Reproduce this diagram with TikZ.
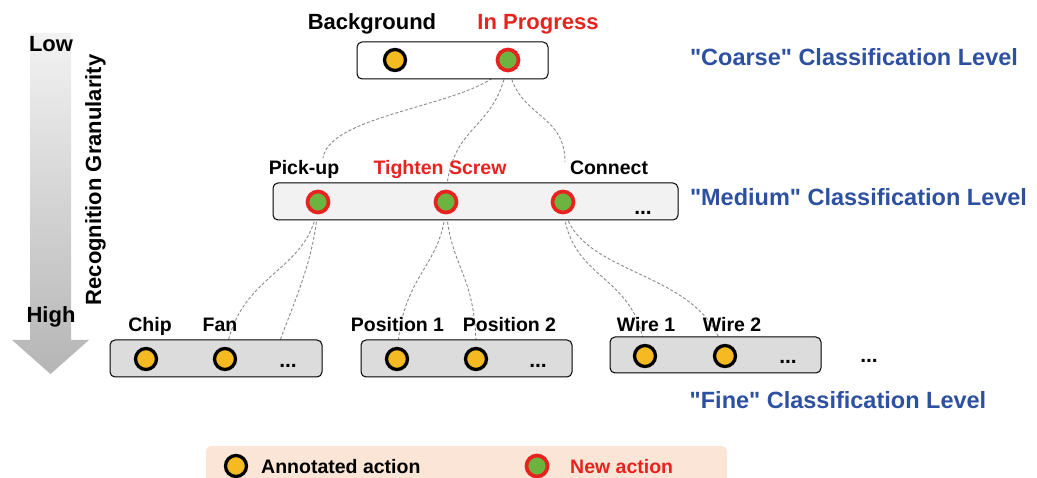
\documentclass[tikz,border=0pt]{standalone}
\usepackage{fontspec}
\newfontfamily\labelfont{Liberation Sans}
\setmainfont{Liberation Sans}

\definecolor{annotfill}{HTML}{F5BA22}
\definecolor{newfill}{HTML}{6DB33F}
\definecolor{newring}{HTML}{E8221F}
\definecolor{levelblue}{HTML}{2E50A0}
\definecolor{legendfill}{HTML}{FBE5D6}
\definecolor{medfill}{HTML}{F2F2F2}
\definecolor{finefill}{HTML}{DCDCDC}
\definecolor{linkgray}{HTML}{8A8A8A}

\pgfdeclarelayer{links}
\pgfdeclarelayer{panels}
\pgfsetlayers{links,panels,main}

\tikzset{
  lbl/.style={font=\labelfont\fontsize{19.5}{20}\selectfont\bfseries, anchor=base, inner sep=0pt},
  biglbl/.style={lbl, font=\labelfont\fontsize{22}{22}\selectfont\bfseries},
  newlbl/.style={lbl, text=newring},
  levellbl/.style={font=\labelfont\fontsize{23.5}{24}\selectfont\bfseries, anchor=base, inner sep=0pt, text=levelblue},
  annot/.style={circle, minimum size=21pt, inner sep=0pt, fill=annotfill, draw=black, line width=3.3pt},
  newact/.style={circle, minimum size=21pt, inner sep=0pt, fill=newfill, draw=newring, line width=3.7pt},
  panel/.style={rectangle, rounded corners=5pt, draw=black, line width=1pt, inner sep=0pt},
  link/.style={draw=linkgray, line width=0.9pt, dash pattern=on 3pt off 2pt},
  dots/.style={font=\labelfont\fontsize{21}{21}\selectfont\bfseries, anchor=base, inner sep=0pt},
}

\begin{document}
\begin{tikzpicture}[x=1pt, y=-1pt]
\clip (0,0) rectangle (1037,478);

% granularity arrow
\shade[top color=gray!10, bottom color=gray!58]
  (30,33) -- (71,33) -- (71,340) -- (89,340) -- (50.5,374) -- (12,340) -- (30,340) -- cycle;
\node[biglbl] (low) at (51,52) {Low};
\node[biglbl] (high) at (51,323) {High};
\node[biglbl, rotate=90] (gran) at (101,180) {Recognition Granularity};

% panels for the three levels
\begin{pgfonlayer}{panels}
  \node[panel, fill=white, minimum width=191pt, minimum height=37pt] (coarse) at (452.5,60.5) {};
  \node[panel, fill=medfill, minimum width=405pt, minimum height=37pt] (medium) at (475.5,201.5) {};
  \node[panel, fill=finefill, minimum width=212pt, minimum height=37pt] (fineA) at (216,358.5) {};
  \node[panel, fill=finefill, minimum width=211pt, minimum height=37pt] (fineB) at (466.5,358.5) {};
  \node[panel, fill=finefill, minimum width=211pt, minimum height=36pt] (fineC) at (715.5,355) {};
\end{pgfonlayer}

% coarse level
\node[annot] (bg) at (395,60) {};
\node[newact] (ip) at (508,60) {};
\node[biglbl] (lbg) at (372,30) {Background};
\node[biglbl, text=newring] (lip) at (538,30) {In Progress};

% medium level
\node[newact] (pick) at (318,202) {};
\node[newact] (ts) at (446,202) {};
\node[newact] (conn) at (563,202) {};
\node[dots] (mdots) at (643,215) {...};
\node[lbl] (lpick) at (304,175) {Pick-up};
\node[newlbl] (lts) at (440,175) {Tighten Screw};
\node[lbl] (lconn) at (609,175) {Connect};

% fine level
\node[annot] (chip) at (146,359) {};
\node[annot] (fan) at (225,359) {};
\node[dots] (fdotsA) at (288,368) {...};
\node[annot] (pos1) at (397,359) {};
\node[annot] (pos2) at (476,359) {};
\node[dots] (fdotsB) at (538,368) {...};
\node[annot] (wire1) at (645,356) {};
\node[annot] (wire2) at (725,356) {};
\node[dots] (fdotsC) at (788,364) {...};
\node[dots] (more) at (869,363) {...};
\node[lbl] (lchip) at (150,332) {Chip};
\node[lbl] (lfan) at (220,332) {Fan};
\node[lbl] (lpos1) at (397.5,332) {Position 1};
\node[lbl] (lpos2) at (509.5,332) {Position 2};
\node[lbl] (lwire1) at (646,332) {Wire 1};
\node[lbl] (lwire2) at (732,332) {Wire 2};

% level captions
\node[levellbl] (cap1) at (854,66) {"Coarse" Classification Level};
\node[levellbl] (cap2) at (858.5,206) {"Medium" Classification Level};
\node[levellbl] (cap3) at (838,409) {"Fine" Classification Level};

% legend
\node[rectangle, rounded corners=5pt, fill=legendfill, minimum width=521pt, minimum height=50pt, inner sep=0pt] (legend) at (466.5,471) {};
\node[annot] (keyA) at (236,466) {};
\node[lbl, anchor=base west] (keyAtxt) at (261,474) {Annotated action};
\node[newact] (keyN) at (537,466) {};
\node[newlbl, anchor=base west] (keyNtxt) at (570,474) {New action};

% dashed hierarchy links
\coordinate (pickend) at (323,158);
\coordinate (connend) at (565,162);
\coordinate (dotsAend) at (276,352);
\begin{pgfonlayer}{links}
  \draw[link] (ip.center) .. controls (495,105) and (330,110) .. (pickend);
  \draw[link] (ip.center) .. controls (498,135) and (447,120) .. (ts.center);
  \draw[link] (ip.center) .. controls (512,118) and (565,110) .. (connend);
  \draw[link] (pick.center) .. controls (312,275) and (235,270) .. (fan.center);
  \draw[link] (pick.center) .. controls (316,260) and (290,310) .. (dotsAend);
  \draw[link] (ts.center) .. controls (444,270) and (400,270) .. (pos1.center);
  \draw[link] (ts.center) .. controls (448,270) and (478,270) .. (pos2.center);
  \draw[link] (conn.center) .. controls (566,285) and (640,270) .. (wire1.center);
  \draw[link] (conn.center) .. controls (572,280) and (705,265) .. (wire2.center);
\end{pgfonlayer}
\end{tikzpicture}
\end{document}
